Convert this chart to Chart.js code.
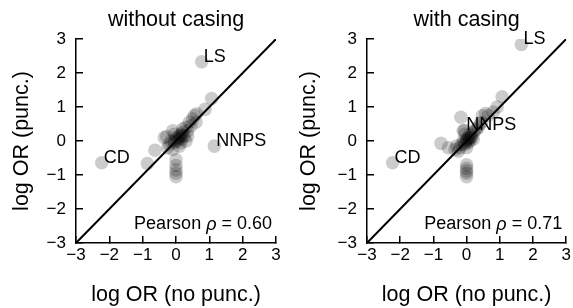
<!DOCTYPE html>
<html>
<head>
<meta charset="utf-8">
<script src="https://cdn.jsdelivr.net/npm/chart.js@4"></script>
<style>
    body { margin: 0; background: #fff; }
    .panel { position: absolute; top: 0; width: 286px; height: 308px; }
    #leftPanel { left: 0; }
    #rightPanel { left: 287px; }
</style>
</head>
<body>
<div class="panel" id="leftPanel"><canvas id="chartLeft" width="286" height="308"></canvas></div>
<div class="panel" id="rightPanel"><canvas id="chartRight" width="286" height="308"></canvas></div>
<script>
    // axis ticks shared by both panels
    var tickValues = [-3, -2, -1, 0, 1, 2, 3];

    // tags named in the plot: they are the first points of each series
    var tagNames = ['LS', 'CD', 'NNPS'];

    // without casing
    var noCaseX = [0.77, -2.23, 1.15, 1.07, 0.87, -0.86, -0.63, 0.0, 0.0, 0.0, 0.0, 0.0, -0.28, -0.35, -0.1, 0.55, 0.5, 0.62, 0.4, 0.45,
                   0.3, 0.35, 0.2, 0.25, 0.1, 0.15, 0.05, -0.05, 0.0, -0.15, -0.2, -0.25, 0.1, 0.3, -0.1, 0.2, 0.6, -0.05, 0.15, 0.35,
                   0.05, 0.1, 0.2, -0.05, 0.15];
    var noCaseY = [2.33, -0.64, -0.15, 1.25, 0.93, -0.66, -0.27, -0.55, -0.72, -0.85, -0.95, -1.05, 0.13, 0.1, 0.3, 0.75, 0.65, 0.8, 0.55, 0.45,
                   0.4, 0.3, 0.25, 0.15, 0.15, 0.05, 0.0, -0.05, 0.1, 0.0, -0.1, -0.2, -0.15, 0.0, -0.25, 0.35, 0.55, 0.2, -0.05, 0.15,
                   0.05, 0.1, 0.15, 0.0, 0.2];
    var noCasePearson = '0.60';

    // with casing
    var caseX = [1.65, -2.23, -0.07, 1.07, 0.92, 0.57, 0.47, 0.65, -0.17, -0.77, -0.55, 0.0, 0.0, 0.0, 0.0, 0.0, -0.35, -0.3, -0.2, -0.15,
                 -0.1, -0.05, 0.0, 0.05, 0.1, 0.1, 0.15, 0.2, 0.25, 0.3, 0.35, 0.4, 0.45, -0.1, -0.05, 0.0, 0.2, -0.25, 0.05, 0.8,
                 0.0, 0.05, 0.1, -0.05, 0.15];
    var caseY = [2.84, -0.64, 0.31, 1.30, 1.0, 0.81, 0.74, 0.75, 0.70, -0.07, -0.2, -0.7, -0.8, -0.88, -0.95, -1.05, -0.25, -0.15, -0.2, -0.1,
                 0.0, -0.1, 0.05, 0.1, 0.0, 0.2, 0.15, 0.25, 0.3, 0.35, 0.4, 0.5, 0.55, 0.3, 0.2, -0.2, 0.05, -0.3, -0.05, 0.85,
                 0.0, 0.05, 0.1, -0.05, 0.1];
    var casePearson = '0.71';

    var FONT = '"Liberation Sans", Arial, Helvetica, sans-serif';
    Chart.defaults.font.family = FONT;
    Chart.defaults.color = '#000';

    // names next to points + Pearson text
    var notesPlugin = {
        id: 'notes',
        afterDatasetsDraw: function (chart, args, opts) {
            var ctx = chart.ctx;
            var sx = chart.scales.x, sy = chart.scales.y;
            var area = chart.chartArea;
            ctx.save();
            ctx.fillStyle = '#000';
            ctx.textBaseline = 'middle';
            ctx.textAlign = 'left';
            ctx.font = '18px ' + FONT;
            for (var i = 0; i < tagNames.length; i++) {
                ctx.fillText(tagNames[i], sx.getPixelForValue(opts.xs[i]) + 2, sy.getPixelForValue(opts.ys[i]) - 5);
            }

            var a = 'Pearson ', b = '\u03C1', c = ' = ' + opts.pearson;
            var normal = '18px ' + FONT, italic = 'italic 18px ' + FONT;
            ctx.font = normal;
            var wa = ctx.measureText(a).width, wc = ctx.measureText(c).width;
            ctx.font = italic;
            var wb = ctx.measureText(b).width;
            var x = area.right - 4 - (wa + wb + wc);
            var y = area.bottom - 19;
            ctx.font = normal;
            ctx.fillText(a, x, y);
            ctx.font = italic;
            ctx.fillText(b, x + wa, y + 1);
            ctx.font = normal;
            ctx.fillText(c, x + wa + wb, y);
            ctx.restore();
        }
    };

    function axisOptions(titleText, horizontal, fitSize) {
        return {
            type: 'linear',
            min: tickValues[0],
            max: tickValues[tickValues.length - 1],
            afterBuildTicks: function (scale) {
                scale.ticks = tickValues.map(function (v) { return { value: v }; });
            },
            afterFit: function (scale) {
                if (horizontal) {
                    scale.height = fitSize;
                    scale.paddingLeft = 0;
                    scale.paddingRight = 0;
                } else {
                    scale.width = fitSize;
                    scale.paddingTop = 0;
                    scale.paddingBottom = 0;
                }
            },
            grid: {
                drawOnChartArea: false,
                color: '#000',
                lineWidth: 1.5,
                tickLength: -7
            },
            border: { display: true, color: '#000', width: 1.5 },
            ticks: {
                font: { size: 17 },
                color: '#000',
                padding: horizontal ? 9 : 17,
                callback: function (v) { return String(v).replace('-', '\u2212'); }
            },
            title: {
                display: true,
                text: titleText,
                font: { size: 21.5 },
                color: '#000',
                padding: horizontal ? { top: 0, bottom: 0 } : { top: 9, bottom: 0 }
            }
        };
    }

    function showGraph(canvasId, titleText, xs, ys, pearson, yWidth, padRight)
    {
        var points = [];
        for (var i in xs) {
            points.push({ x: xs[i], y: ys[i] });
        }
        var lo = tickValues[0], hi = tickValues[tickValues.length - 1];

        new Chart(document.getElementById(canvasId), {
            type: 'scatter',
            data: {
                datasets: [
                    {
                        type: 'line',
                        data: [{ x: lo, y: lo }, { x: hi, y: hi }],
                        borderColor: '#000',
                        borderWidth: 2,
                        pointRadius: 0,
                        fill: false,
                        order: 0
                    },
                    {
                        data: points,
                        backgroundColor: 'rgba(0,0,0,0.2)',
                        borderWidth: 0,
                        pointRadius: 6.8,
                        order: 1
                    }
                ]
            },
            options: {
                responsive: false,
                animation: false,
                layout: { padding: { left: 0, right: padRight, top: 0, bottom: 0 } },
                plugins: {
                    legend: { display: false },
                    tooltip: { enabled: false },
                    title: {
                        display: true,
                        text: titleText,
                        fullSize: false,
                        color: '#000',
                        font: { size: 21.5, weight: 'normal' },
                        padding: { top: 7.4, bottom: 5.8 }
                    },
                    notes: { xs: xs, ys: ys, pearson: pearson }
                },
                scales: {
                    x: axisOptions('log OR (no punc.)', true, 65),
                    y: axisOptions('log OR (punc.)', false, yWidth)
                }
            },
            plugins: [notesPlugin]
        });
    }

    showGraph('chartLeft', 'without casing', noCaseX, noCaseY, noCasePearson, 76, 10);
    showGraph('chartRight', 'with casing', caseX, caseY, casePearson, 80, 5);
</script>
</body>
</html>
